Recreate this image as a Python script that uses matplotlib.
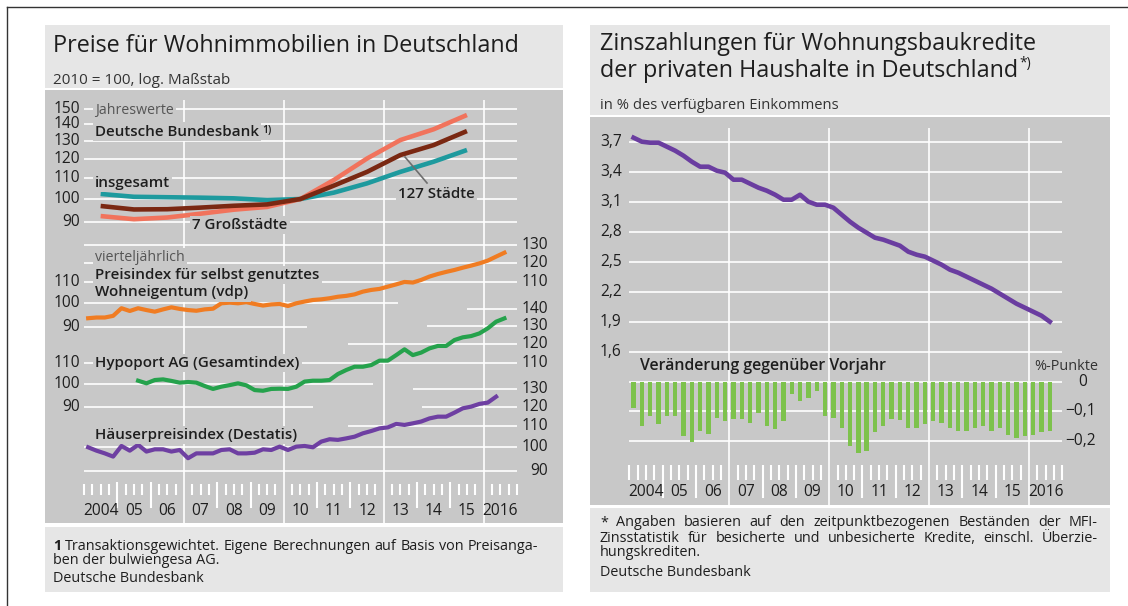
import numpy as np
import pandas as pd
import matplotlib
matplotlib.use('Agg')
import matplotlib.pyplot as plt
from matplotlib.patches import Rectangle
from matplotlib.lines import Line2D

plt.rcParams['font.family'] = ['Open Sans', 'DejaVu Sans']

# Jahreswerte, Deutsche Bundesbank (2010 = 100)
years = [2004, 2005, 2006, 2007, 2008, 2009, 2010, 2011, 2012, 2013, 2014, 2015]
insgesamt = [102.3, 101.0, 100.8, 100.6, 100.3, 99.5, 100.0, 102.9, 107.3, 113.0, 118.3, 124.7]
staedte_127 = [96.9, 95.4, 95.5, 96.2, 97.0, 97.6, 100.0, 106.2, 113.0, 121.9, 127.5, 135.8]
grossstaedte_7 = [92.6, 91.3, 92.0, 93.6, 95.3, 96.5, 100.0, 108.9, 120.0, 130.4, 136.9, 146.0]

# vierteljaehrlich
vdp = [93.5, 93.8, 93.8, 94.5, 97.8, 96.6, 97.8, 97.0, 96.3, 97.3, 98.2, 97.5, 97.0,
       96.7, 97.3, 97.6, 100.0, 100.3, 100.0, 100.5, 99.7, 99.0, 99.5, 99.7, 98.8,
       100.0, 100.8, 101.5, 101.8, 102.3, 103.0, 103.4, 104.1, 105.4, 106.2, 106.7,
       107.8, 108.9, 110.1, 109.8, 111.1, 112.8, 114.1, 115.2, 116.2, 117.4, 118.5,
       119.7, 121.2, 123.4, 125.6]  # 2004Q1 - 2016Q3
hypoport = [101.5, 100.3, 101.8, 102.1, 101.4, 100.6, 100.9, 100.6, 99.1, 97.8, 98.8,
            99.5, 100.3, 99.4, 97.3, 97.0, 97.8, 97.9, 97.8, 98.8, 101.1, 101.5, 101.5,
            101.8, 104.6, 106.5, 108.1, 108.1, 108.9, 111.1, 111.1, 113.9, 116.9, 113.9,
            115.2, 117.4, 118.7, 118.7, 121.9, 123.4, 124.1, 125.6, 128.5, 132.4, 134.4]  # 2005Q3 - 2016Q3
destatis = [100.0, 98.5, 97.3, 95.9, 100.6, 98.5, 101.1, 98.1, 99.1, 99.1, 98.1, 98.8,
            95.2, 97.3, 97.3, 97.3, 98.8, 99.1, 97.3, 97.3, 97.6, 99.1, 98.8, 100.3,
            98.8, 100.3, 100.6, 100.0, 102.6, 103.7, 103.4, 104.1, 104.9, 106.5, 107.6,
            108.9, 109.4, 111.1, 110.6, 111.4, 112.3, 113.9, 114.8, 114.8, 116.9, 119.2,
            120.1, 121.6, 122.3, 125.6]  # 2004Q1 - 2016Q2

# Zinszahlungen in % des verfuegbaren Einkommens, 2004Q1 - 2016Q3
zins = [3.74, 3.70, 3.69, 3.69, 3.65, 3.61, 3.56, 3.50, 3.45, 3.45, 3.41, 3.39, 3.32,
        3.32, 3.28, 3.24, 3.21, 3.17, 3.12, 3.12, 3.17, 3.10, 3.07, 3.07, 3.04, 2.97,
        2.90, 2.84, 2.79, 2.74, 2.72, 2.69, 2.66, 2.60, 2.57, 2.55, 2.51, 2.47, 2.42,
        2.39, 2.35, 2.31, 2.27, 2.23, 2.18, 2.13, 2.08, 2.04, 2.00, 1.96, 1.90]
zins_vj = [-0.088, -0.149, -0.117, -0.145, -0.117, -0.117, -0.185, -0.206, -0.168,
           -0.176, -0.122, -0.134, -0.126, -0.126, -0.139, -0.107, -0.151, -0.160,
           -0.134, -0.040, -0.065, -0.054, -0.031, -0.117, -0.122, -0.157, -0.219,
           -0.240, -0.234, -0.171, -0.151, -0.126, -0.130, -0.157, -0.157, -0.142,
           -0.134, -0.139, -0.157, -0.168, -0.168, -0.157, -0.149, -0.168, -0.157,
           -0.179, -0.191, -0.185, -0.179, -0.171, -0.168]

year_labels = ['2004', '05', '06', '07', '08', '09', '10', '11', '12', '13', '14', '15', '2016']


def quarter_pos(start, n):
    p = pd.period_range(start, periods=n, freq='Q')
    return np.asarray(p.year + (p.quarter - 0.5) / 4)


W, H = 1128, 606
PX_YEAR = 33.3
K = 222.0  # px per ln unit on the log scales
LIGHT = '#e6e6e6'
PLOT = '#c8c8c8'
DARK = '#1e1e1e'
TICK_FS = 11.2
LABEL_FS = 10.9
TITLE_FS = 16.8
NOTE_FS = 10.4

fig = plt.figure(figsize=(W / 100, H / 100), dpi=100)
fig.patch.set_facecolor('white')


def rect(x0, y0, x1, y1):
    return [x0 / W, 1 - y1 / H, (x1 - x0) / W, (y1 - y0) / H]


def box(x0, y0, x1, y1, color):
    fig.add_artist(Rectangle((x0 / W, 1 - y1 / H), (x1 - x0) / W, (y1 - y0) / H,
                             transform=fig.transFigure, fc=color, ec='none', zorder=-5))


def ftext(x, y, s, **kw):
    kw.setdefault('va', 'baseline')
    kw.setdefault('color', DARK)
    return fig.text(x / W, 1 - y / H, s, **kw)


def justify(words, x0, x1, y, size, color):
    r = fig.canvas.get_renderer()
    arts = []
    for w in words:
        weight = 'bold' if w in ('1',) else 'normal'
        arts.append(ftext(x0, y, w, fontsize=size, color=color, fontweight=weight, va='center'))
    widths = [a.get_window_extent(r).width for a in arts]
    gap = (x1 - x0 - sum(widths)) / (len(arts) - 1)
    x = x0
    for a, w in zip(arts, widths):
        a.set_x(x / W)
        x += w + gap


def new_axes(r, x2004, ylim, log=False):
    ax = fig.add_axes(rect(*r))
    ax.set_xlim(2004 - (x2004 - r[0]) / PX_YEAR, 2004 + (r[2] - x2004) / PX_YEAR)
    if log:
        ax.set_yscale('log')
    ax.set_ylim(*ylim)
    ax.axis('off')
    return ax


def time_axis(ax, grid_top, grid_bot, tick_top, tick_bot, sep_top, sep_bot, label_y):
    grid_years = [2007, 2010, 2013, 2016]
    ax.vlines(grid_years, grid_top, grid_bot, color='white', lw=1.2)
    seps = [y for y in range(2005, 2017) if y not in grid_years]
    ax.vlines(seps, sep_top, sep_bot, color='white', lw=1.5)
    qs = [t for t in np.arange(2004, 2017.01, 0.25) if t % 1 != 0 or t in (2004, 2017)]
    ax.vlines(qs, tick_top, tick_bot, color='white', lw=1.5)
    for yr_, lab in zip(range(2004, 2017), year_labels):
        ax.text(yr_ + 0.5, label_y, lab, ha='center', va='center', fontsize=TICK_FS, color=DARK)


def grid(ax, lines):
    for v, a, b in lines:
        ax.hlines(v, a, b, color='white', lw=1.2, zorder=1)


def yr(px, x2004):
    return 2004 + (px - x2004) / PX_YEAR


lab_box = dict(boxstyle='square,pad=0.15', fc=PLOT, ec='none')

# outer frame (top and left edge)
fig.add_artist(Line2D([7 / W, 1], [1 - 7 / H, 1 - 7 / H], color='#333333', lw=1))
fig.add_artist(Line2D([7 / W, 7 / W], [0, 1 - 7 / H], color='#333333', lw=1))

# ---------------- left panel ----------------
LP = (45, 90, 563, 523)
LX = 84
box(45, 25, 563, 88, LIGHT)
box(*LP, PLOT)
box(45, 527, 563, 592, LIGHT)

ftext(53, 51.5, 'Preise für Wohnimmobilien in Deutschland', fontsize=TITLE_FS)
ftext(53, 84, '2010 = 100, log. Maßstab', fontsize=11, color='#333333')

base = new_axes(LP, LX, (LP[3], LP[1]))
time_axis(base, 100, 523, 484, 495, 482, 508, 511)

xl_left = yr(80, LX)
xl_right = yr(548, LX)


def log_axes(y_ref):
    return new_axes(LP, LX, (100 * np.exp((y_ref - LP[3]) / K), 100 * np.exp((y_ref - LP[1]) / K)),
                    log=True)


def tick_labels(ax, left_vals, right_vals):
    for v in left_vals:
        ax.text(xl_left, v, str(v), ha='right', va='center', fontsize=TICK_FS, color=DARK)
    for v in right_vals:
        ax.text(xl_right, v, str(v), ha='right', va='center', fontsize=TICK_FS, color=DARK)


def label(ax, x_px, y_ref, y_px, s, light=False):
    # place a label at pixel height y_px on a log section whose 100 sits at y_ref
    v = 100 * np.exp((y_ref - y_px) / K)
    if light:
        return ax.text(yr(x_px, LX), v, s, fontsize=10.2, color='#555555', va='center',
                       bbox=lab_box, zorder=6)
    return ax.text(yr(x_px, LX), v, s, fontsize=LABEL_FS, fontweight='semibold', color=DARK,
                   va='center', bbox=lab_box, zorder=6)


# Jahreswerte
ax1 = log_axes(199)
grid(ax1, [(v, 2004, 2017) for v in (90, 100, 110, 120, 130, 140, 150)])
tick_labels(ax1, [150, 140, 130, 120, 110, 100, 90], [])
ya = np.array(years) + 0.5
ax1.plot(ya, insgesamt, color='#1e9a9e', lw=3.3, solid_capstyle='butt', zorder=3)
ax1.plot(ya, grossstaedte_7, color='#f1735c', lw=3.3, solid_capstyle='butt', zorder=3)
ax1.plot(ya, staedte_127, color='#7a2812', lw=3.3, solid_capstyle='butt', zorder=4)
ax1.plot([yr(405, LX), yr(427, LX)], [100 * np.exp((199 - 157) / K), 100 * np.exp((199 - 183) / K)],
         color='#6e6e6e', lw=1.2, zorder=5)
label(ax1, 95, 199, 110.5, 'Jahreswerte', light=True)
db = label(ax1, 95, 199, 131.5, 'Deutsche Bundesbank')
label(ax1, 95, 199, 182.7, 'insgesamt')
label(ax1, 192, 199, 225, '7 Großstädte')
label(ax1, 398, 199, 194, '127 Städte')

# vdp
ax2 = log_axes(303.3)
grid(ax2, [(90, 2004, yr(307, LX)), (100, 2004, yr(398, LX)),
           (110, 2004, 2017), (120, 2004, 2017), (130, 2004, 2017)])
tick_labels(ax2, [110, 100, 90], [130, 120, 110])
ax2.plot(quarter_pos('2004Q1', len(vdp)), vdp, color='#f07c22', lw=3.0, zorder=3)
label(ax2, 95, 303.3, 258, 'vierteljährlich', light=True)
label(ax2, 95, 303.3, 275, 'Preisindex für selbst genutztes')
label(ax2, 95, 303.3, 292.5, 'Wohneigentum (vdp)')

# Hypoport
ax3 = log_axes(384)
grid(ax3, [(90, 2004, yr(313, LX)), (100, 2004, yr(373, LX)), (110, 2004, 2017),
           (120, yr(348, LX), 2017), (130, yr(427, LX), 2017), (140, yr(467, LX), 2017)])
tick_labels(ax3, [110, 100, 90], [140, 130, 120, 110])
ax3.plot(quarter_pos('2005Q3', len(hypoport)), hypoport, color='#25a24c', lw=3.0, zorder=3)
label(ax3, 95, 384, 363, 'Hypoport AG (Gesamtindex)')

# Destatis
ax4 = log_axes(447.3)
grid(ax4, [(90, 2004, 2017), (100, 2004, 2017), (110, yr(348, LX), 2017),
           (120, yr(422, LX), 2017), (130, yr(413, LX), 2017)])
tick_labels(ax4, [], [130, 120, 110, 100, 90])
ax4.plot(quarter_pos('2004Q1', len(destatis)), destatis, color='#6e3fa2', lw=3.0, zorder=3)
label(ax4, 95, 447.3, 435, 'Häuserpreisindex (Destatis)')

# footnote left
justify(['1', 'Transaktionsgewichtet.', 'Eigene', 'Berechnungen', 'auf', 'Basis', 'von',
         'Preisanga-'], 53, 538, 546, NOTE_FS, DARK)
ftext(53, 561, 'ben der bulwiengesa AG.', fontsize=NOTE_FS, va='center')
ftext(53, 579, 'Deutsche Bundesbank', fontsize=NOTE_FS, va='center')

# ---------------- right panel ----------------
RP = (590, 117, 1110, 505)
RX = 629.4
box(590, 25, 1110, 115, LIGHT)
box(*RP, PLOT)
box(590, 508, 1110, 592, LIGHT)

ftext(600, 49.5, 'Zinszahlungen für Wohnungsbaukredite', fontsize=TITLE_FS)
t2 = ftext(600, 77, 'der privaten Haushalte in Deutschland', fontsize=TITLE_FS)
ftext(600, 109.5, 'in % des verfügbaren Einkommens', fontsize=10.6, color='#333333')

rbase = new_axes(RP, RX, (RP[3], RP[1]))
time_axis(rbase, 128, 505, 465, 480, 465, 498, 492)

axl = new_axes(RP, RX, (3.7 - (RP[3] - 141.7) / 100, 3.7 + (141.7 - RP[1]) / 100))
zins_ticks = [3.7, 3.4, 3.1, 2.8, 2.5, 2.2, 1.9, 1.6]
grid(axl, [(v, 2004, 2017) for v in zins_ticks])
for v in zins_ticks:
    axl.text(yr(600, RX), v, f'{v:.1f}'.replace('.', ','), ha='left', va='center',
             fontsize=TICK_FS, color=DARK)
axl.plot(quarter_pos('2004Q1', len(zins)), zins, color='#6a3da0', lw=3.3, zorder=3)

axb = new_axes(RP, RX, (-(RP[3] - 381.7) / 295, (381.7 - RP[1]) / 295))
grid(axb, [(v, 2004, 2017) for v in (0, -0.1, -0.2)])
axb.bar(quarter_pos('2004Q1', len(zins_vj)), zins_vj, width=0.13, color='#7dc24c', zorder=3)
axb.text(yr(1078, RX), 0, '0', ha='left', va='center', fontsize=TICK_FS, color=DARK)
axb.text(yr(1065, RX), -0.1, '\u22120,1', ha='left', va='center', fontsize=TICK_FS, color=DARK)
axb.text(yr(1065, RX), -0.2, '\u22120,2', ha='left', va='center', fontsize=TICK_FS, color=DARK)
axb.text(yr(640, RX), (381.7 - 366.5) / 295, 'Veränderung gegenüber Vorjahr', fontsize=11.4,
         fontweight='semibold', color=DARK, va='center')
axb.text(yr(1034, RX), (381.7 - 366.5) / 295, '%-Punkte', fontsize=10.4, color='#333333',
         va='center')

# footnote right
justify(['*', 'Angaben', 'basieren', 'auf', 'den', 'zeitpunktbezogenen', 'Beständen', 'der',
         'MFI-'], 600, 1098, 523, NOTE_FS, DARK)
justify(['Zinsstatistik', 'für', 'besicherte', 'und', 'unbesicherte', 'Kredite,', 'einschl.',
         'Überzie-'], 600, 1098, 538, NOTE_FS, DARK)
ftext(600, 553, 'hungskrediten.', fontsize=NOTE_FS, va='center')
ftext(600, 572, 'Deutsche Bundesbank', fontsize=NOTE_FS, va='center')

# superscripts
fig.canvas.draw()
r = fig.canvas.get_renderer()
bb = db.get_window_extent(r)
fig.text((bb.x1 + 3) / W, (bb.y1 - 6) / H, '1)', fontsize=7.5, fontweight='semibold', color=DARK,
         va='center')
bb2 = t2.get_window_extent(r)
fig.text((bb2.x1 + 1) / W, (bb2.y1 - 4) / H, '*)', fontsize=10, color=DARK, va='center')

fig.savefig('out.png', dpi=100)
